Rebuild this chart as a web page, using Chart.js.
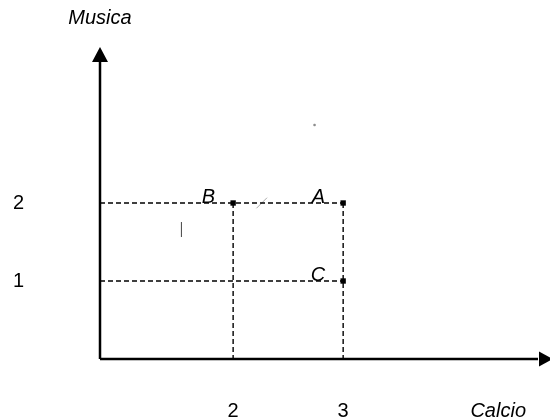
<!DOCTYPE html>
<html>
<head>
<meta charset="utf-8">
<title>Musica / Calcio</title>
<script src="https://cdn.jsdelivr.net/npm/chart.js@4"></script>
<style>
  html, body { margin: 0; padding: 0; background: #fff; }
</style>
</head>
<body>
<canvas id="chart" width="550" height="420"></canvas>
<script>
// Points of the diagram
const pointNames = ['B', 'A', 'C'];
const calcioValues = [2, 3, 3];
const musicaValues = [2, 2, 1];

// Tick labels and axis names
const xTicks = [2, 3];
const yTicks = [1, 2];
const xAxisName = 'Calcio';
const yAxisName = 'Musica';

// Small stray marks visible in the scan
const strayX = [1.53, 2.26, 2.74];
const strayY = [1.66, 2.0, 3.0];

const X_MIN = 0.79, X_MAX = 4.88;
const Y_MIN = 0, Y_MAX = 4;

const FONT = '"Liberation Sans", Arial, sans-serif';

// Dashed guide lines from every point to both axes
const guideSets = [];
const seenY = {}, seenX = {};
calcioValues.forEach(function(x, i) {
    const y = musicaValues[i];
    seenY[y] = Math.max(seenY[y] || -Infinity, x);
    seenX[x] = Math.max(seenX[x] || -Infinity, y);
});
Object.keys(seenY).forEach(function(y) {
    guideSets.push([{x: X_MIN, y: +y}, {x: seenY[y], y: +y}]);
});
Object.keys(seenX).forEach(function(x) {
    guideSets.push([{x: +x, y: seenX[x]}, {x: +x, y: Y_MIN}]);
});

const datasets = guideSets.map(function(d) {
    return {
        type: 'scatter',
        data: d,
        showLine: true,
        borderColor: '#000',
        borderWidth: 1.4,
        borderDash: [5, 3],
        pointRadius: 0
    };
});

datasets.push({
    type: 'scatter',
    data: calcioValues.map(function(x, i) { return {x: x, y: musicaValues[i]}; }),
    pointStyle: 'rect',
    pointRadius: 3.8,
    backgroundColor: '#000',
    borderColor: '#000',
    borderWidth: 0
});

datasets.push({
    type: 'scatter',
    data: strayX.map(function(x, i) { return {x: x, y: strayY[i]}; }),
    pointStyle: ['line', 'line', 'rect'],
    rotation: [90, -45, 0],
    pointRadius: [7.5, 7.5, 1],
    borderWidth: 1,
    borderColor: ['#444', '#aaa', '#888'],
    backgroundColor: '#888'
});

// Axes with arrows, axis names and point letters
const diagramPlugin = {
    id: 'diagram',
    afterDatasetsDraw: function(chart) {
        const c = chart.ctx;
        const a = chart.chartArea;
        const xs = chart.scales.x, ys = chart.scales.y;
        c.save();
        c.strokeStyle = '#000';
        c.fillStyle = '#000';
        c.lineWidth = 2.5;
        c.beginPath();
        c.moveTo(a.left, a.bottom);
        c.lineTo(a.left, a.top + 14);
        c.moveTo(a.left, a.bottom);
        c.lineTo(a.right - 12, a.bottom);
        c.stroke();

        c.beginPath();
        c.moveTo(a.left, a.top);
        c.lineTo(a.left - 8, a.top + 15);
        c.lineTo(a.left + 8, a.top + 15);
        c.closePath();
        c.fill();
        c.beginPath();
        c.moveTo(a.right + 3, a.bottom);
        c.lineTo(a.right - 11, a.bottom - 7.5);
        c.lineTo(a.right - 11, a.bottom + 7.5);
        c.closePath();
        c.fill();

        c.font = 'italic 20px ' + FONT;
        c.textBaseline = 'middle';
        c.textAlign = 'center';
        c.fillText(yAxisName, a.left, a.top - 29);
        c.textAlign = 'right';
        c.fillText(xAxisName, a.right - 24, a.bottom + 52);

        c.textBaseline = 'alphabetic';
        pointNames.forEach(function(name, i) {
            const px = xs.getPixelForValue(calcioValues[i]);
            const py = ys.getPixelForValue(musicaValues[i]);
            c.fillText(name, px - 18, py);
        });
        c.restore();
    }
};

new Chart(document.getElementById('chart'), {
    type: 'scatter',
    data: { datasets: datasets },
    options: {
        responsive: false,
        animation: false,
        events: [],
        layout: { autoPadding: false, padding: { top: 47, right: 0, left: 0, bottom: 0 } },
        plugins: {
            legend: { display: false },
            tooltip: { enabled: false }
        },
        scales: {
            x: {
                type: 'linear',
                min: X_MIN,
                max: X_MAX,
                grid: { display: false, drawTicks: false },
                border: { display: false },
                afterBuildTicks: function(s) { s.ticks = xTicks.map(function(v) { return {value: v}; }); },
                afterFit: function(s) {
                    s.height = 61;
                    s.paddingLeft = 0;
                    s.paddingRight = 0;
                },
                ticks: {
                    padding: 40,
                    maxRotation: 0,
                    autoSkip: false,
                    color: '#000',
                    font: { family: FONT, size: 20 }
                }
            },
            y: {
                type: 'linear',
                min: Y_MIN,
                max: Y_MAX,
                grid: { display: false, drawTicks: false },
                border: { display: false },
                afterBuildTicks: function(s) { s.ticks = yTicks.map(function(v) { return {value: v}; }); },
                afterFit: function(s) {
                    s.width = 100;
                    s.paddingTop = 0;
                    s.paddingBottom = 0;
                },
                ticks: {
                    padding: 76,
                    color: '#000',
                    font: { family: FONT, size: 20 }
                }
            }
        }
    },
    plugins: [diagramPlugin]
});
</script>
</body>
</html>
